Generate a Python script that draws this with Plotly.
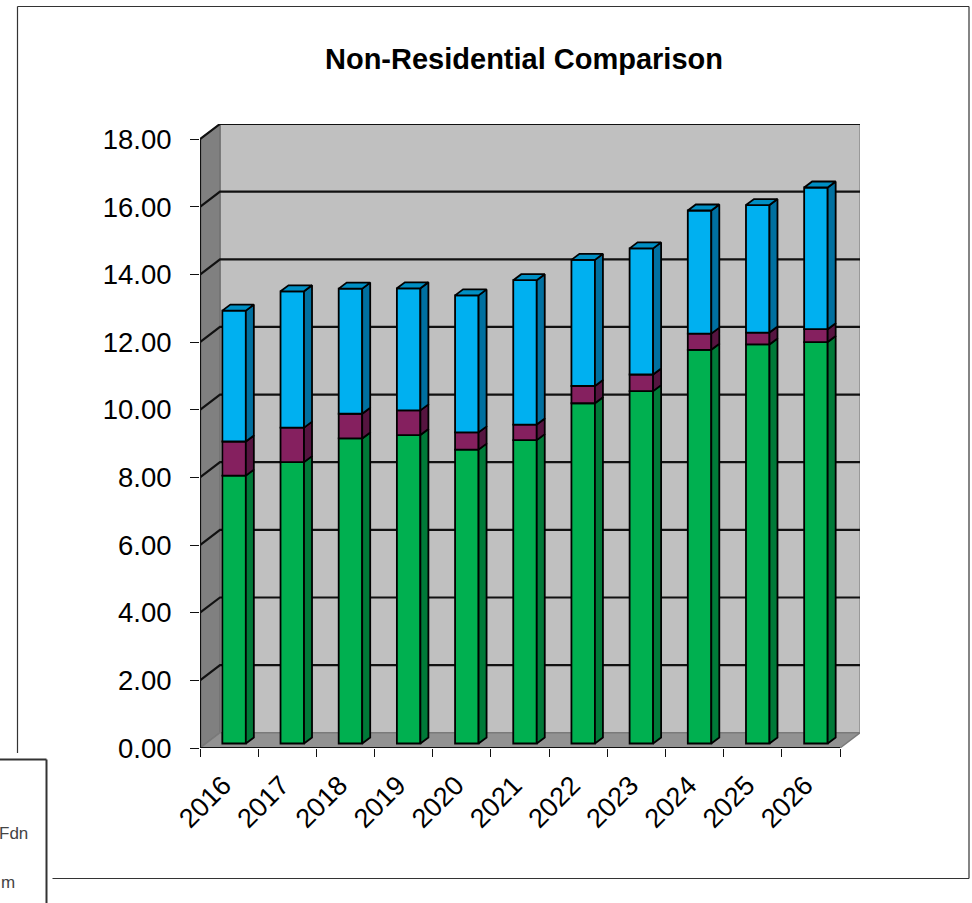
import plotly.graph_objects as go

years = ["2016", "2017", "2018", "2019", "2020", "2021", "2022", "2023", "2024", "2025", "2026"]
green_values = [7.92, 8.32, 9.02, 9.12, 8.69, 8.97, 10.06, 10.42, 11.64, 11.80, 11.87]
maroon_values = [1.01, 1.02, 0.73, 0.73, 0.51, 0.46, 0.51, 0.49, 0.48, 0.35, 0.38]
blue_values = [3.87, 4.03, 3.70, 3.61, 4.05, 4.27, 3.73, 3.73, 3.64, 3.77, 4.19]
y_ticks = [0, 2, 4, 6, 8, 10, 12, 14, 16, 18]

FONT = "Liberation Sans"
N = len(years)
W, H = 972, 903
LEFT, RIGHT, TOP, BOTTOM = 200, 112, 124, 155

# pixel scale of the plot area, used to express the 3-D depth in data units
PX_X = 640 / N
PX_Y = 33.82
WALL_DX = 20 / PX_X
WALL_DY = 624 / PX_Y - 18
SHIFT_X = 5 / PX_X
LIFT_Y = 4.5 / PX_Y
BAR_W = 23.5 / PX_X
SIDE_DX = 8 / PX_X
SIDE_DY = 6 / PX_Y


def polygon(points, fill, line="black", width=1.8):
    xs, ys = [], []
    for pts in points:
        xs += [p[0] for p in pts] + [pts[0][0], None]
        ys += [p[1] for p in pts] + [pts[0][1], None]
    return go.Scatter(x=xs, y=ys, mode="lines", fill="toself", fillcolor=fill,
                      line=dict(color=line, width=width), hoverinfo="skip",
                      showlegend=False, cliponaxis=False)


def data_path(points, fill, line, width):
    d = "M " + " L ".join(f"{x},{y}" for x, y in points) + " Z"
    return dict(type="path", path=d, xref="x", yref="y", layer="below",
                fillcolor=fill, line=dict(color=line, width=width))


def wall_line(points):
    d = "M " + " L ".join(f"{x},{y}" for x, y in points)
    return dict(type="path", path=d, xref="x", yref="y", layer="below",
                line=dict(color="#111111", width=2.2))


# plot walls, floor and the gridlines that wrap from side wall to back wall
shapes = [
    data_path([(WALL_DX, WALL_DY), (N + WALL_DX, WALL_DY), (N + WALL_DX, 18 + WALL_DY), (WALL_DX, 18 + WALL_DY)],
              "#C0C0C0", "#8c8c8c", 1.5),
    data_path([(0, 0), (WALL_DX, WALL_DY), (WALL_DX, 18 + WALL_DY), (0, 18)], "#808080", "#707070", 1.5),
    data_path([(0, 0), (WALL_DX, WALL_DY), (N + WALL_DX, WALL_DY), (N, 0)], "#929292", "#7a7a7a", 1.5),
]
for v in y_ticks[1:]:
    shapes.append(wall_line([(0, v), (WALL_DX, v + WALL_DY), (N + WALL_DX, v + WALL_DY)]))


# chart frame and the edge of the legend box, positioned in page pixels
def px(x):
    return (x - LEFT) / (W - LEFT - RIGHT)


def py(y):
    return 1 - (y - TOP) / (H - TOP - BOTTOM)


frame = dict(type="line", xref="paper", yref="paper", line=dict(color="#333333", width=1.2))
shapes += [
    dict(frame, x0=px(17.5), x1=px(969), y0=py(6.5), y1=py(6.5)),
    dict(frame, x0=px(969), x1=px(969), y0=py(6.5), y1=py(878.5)),
    dict(frame, x0=px(52.5), x1=px(969), y0=py(878.5), y1=py(878.5)),
    dict(frame, x0=px(17.5), x1=px(17.5), y0=py(6.5), y1=py(753)),
    dict(type="line", xref="paper", yref="paper", x0=px(0), x1=px(46.5), y0=py(759.5), y1=py(759.5),
         line=dict(color="#333333", width=2)),
    dict(type="line", xref="paper", yref="paper", x0=px(46.5), x1=px(46.5), y0=py(759.5), y1=py(903),
         line=dict(color="#333333", width=2)),
]

annotations = [
    dict(text="<b>Non-Residential Comparison</b>", xref="paper", yref="paper", x=px(524), y=py(59),
         xanchor="center", yanchor="middle", showarrow=False,
         font=dict(family=FONT, size=29, color="black")),
    dict(text="Fdn", xref="paper", yref="paper", x=px(30), y=py(833), xanchor="right", yanchor="middle",
         showarrow=False, font=dict(family=FONT, size=17, color="#444444")),
    dict(text="m", xref="paper", yref="paper", x=px(17), y=py(883), xanchor="right", yanchor="middle",
         showarrow=False, font=dict(family=FONT, size=17, color="#444444")),
]

fig = go.Figure()

series = [("Green", green_values, "#00B050", "#007A38"),
          ("Maroon", maroon_values, "#85205F", "#561440"),
          ("Blue", blue_values, "#00B0F0", "#0070A0")]

centres = [i + 0.5 + SHIFT_X for i in range(N)]
bottoms = [LIFT_Y] * N
for name, values, front, side in series:
    fig.add_trace(go.Bar(x=centres, y=values, base=bottoms, width=BAR_W, name=name,
                         marker=dict(color=front, line=dict(color="black", width=1.8)),
                         showlegend=False))
    tops = [b + v for b, v in zip(bottoms, values)]
    faces = []
    for c, b, t in zip(centres, bottoms, tops):
        r = c + BAR_W / 2
        faces.append([(r, b), (r + SIDE_DX, b + SIDE_DY), (r + SIDE_DX, t + SIDE_DY), (r, t)])
    fig.add_trace(polygon(faces, side))
    bottoms = tops

# cap on the top of each stack
caps = []
for c, t in zip(centres, bottoms):
    l, r = c - BAR_W / 2, c + BAR_W / 2
    caps.append([(l, t), (r, t), (r + SIDE_DX, t + SIDE_DY), (l + SIDE_DX, t + SIDE_DY)])
fig.add_trace(polygon(caps, "#008FC4"))

# front edge of the floor and left edge of the side wall
fig.add_trace(go.Scatter(x=[0, 0, N], y=[18, 0, 0], mode="lines", line=dict(color="#111111", width=2.2),
                         hoverinfo="skip", showlegend=False, cliponaxis=False))

fig.update_layout(
    width=W, height=H, autosize=False,
    margin=dict(l=LEFT, r=RIGHT, t=TOP, b=BOTTOM, pad=0),
    paper_bgcolor="white", plot_bgcolor="white",
    barmode="overlay", showlegend=False,
    font=dict(family=FONT, color="black"),
    shapes=shapes, annotations=annotations,
    xaxis=dict(range=[0, N + WALL_DX], showgrid=False, zeroline=False, showline=False,
               tickmode="array", tickvals=[i + 0.4 for i in range(N)], ticktext=years,
               tickangle=-45, ticks="", tickfont=dict(family=FONT, size=27, color="black"),
               ticklabelstandoff=15,
               minor=dict(tickmode="array", tickvals=list(range(N + 1)), ticks="outside",
                          ticklen=8, tickcolor="#111111", tickwidth=1.2, showgrid=False)),
    yaxis=dict(range=[0, 18 + WALL_DY], showgrid=False, zeroline=False, showline=False,
               tickmode="array", tickvals=y_ticks, ticktext=[f"{v:.2f}" for v in y_ticks],
               ticks="outside", ticklen=9, tickcolor="#111111", tickwidth=1.2,
               tickfont=dict(family=FONT, size=27.5, color="black"), ticklabelstandoff=13),
)

fig.write_html("out.html")
